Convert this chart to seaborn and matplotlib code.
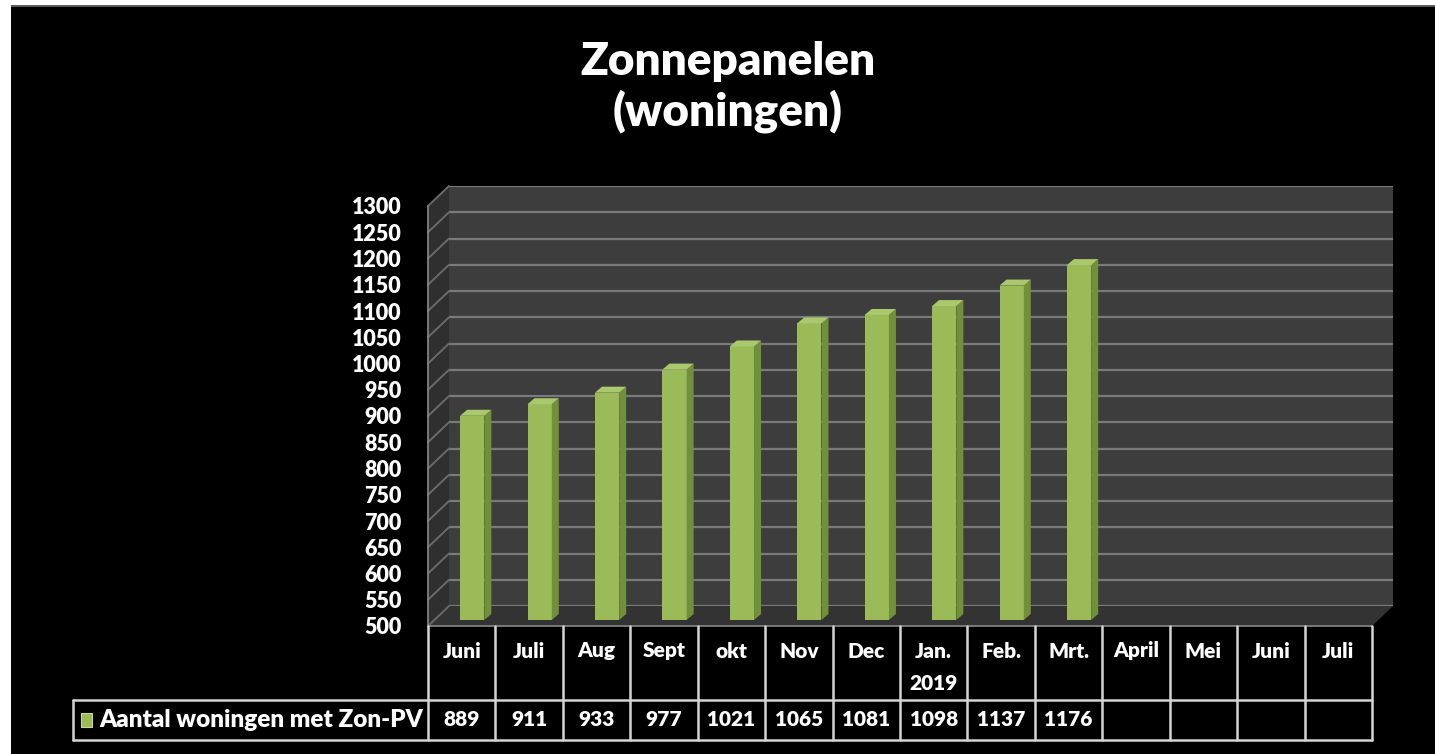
import numpy as np
import pandas as pd
import matplotlib
matplotlib.use("Agg")
import matplotlib.pyplot as plt
import seaborn as sns
from matplotlib.patches import Polygon, Rectangle
from matplotlib.lines import Line2D
from matplotlib.transforms import IdentityTransform

# ---------------- data ----------------
month_keys = ["2018-06", "2018-07", "2018-08", "2018-09", "2018-10", "2018-11",
              "2018-12", "2019-01", "2019-02", "2019-03", "2019-04", "2019-05",
              "2019-06", "2019-07"]
month_labels = ["Juni", "Juli", "Aug", "Sept", "okt", "Nov", "Dec", "Jan.\n2019",
                "Feb.", "Mrt.", "April", "Mei", "Juni", "Juli"]
values = [889, 911, 933, 977, 1021, 1065, 1081, 1098, 1137, 1176]
series_name = "Aantal woningen met Zon-PV"
title_text = "Zonnepanelen\n(woningen)"
y_ticks = list(range(500, 1301, 50))

df = pd.DataFrame({"maand": month_keys[:len(values)], "aantal": values})

# ---------------- style ----------------
sns.set_theme(style="dark")
plt.rcParams['font.family'] = ['Lato', 'DejaVu Sans']
plt.rcParams['font.weight'] = 'bold'
FW = "heavy"

W, H = 1435, 754
fig = plt.figure(figsize=(W / 100, H / 100), dpi=100, facecolor="black")


def box(x0, y0, x1, y1):
    return [x0 / W, 1 - y1 / H, (x1 - x0) / W, (y1 - y0) / H]


# white margin of the screenshot
fig.patches.append(Rectangle((0, 0), 11 / W, 1, transform=fig.transFigure,
                             facecolor="white", edgecolor="none", zorder=10))
fig.patches.append(Rectangle((0, 1 - 5 / H), 1, 5 / H, transform=fig.transFigure,
                             facecolor="white", edgecolor="none", zorder=10))
fig.patches.append(Rectangle((11 / W, 1 - 7 / H), 1, 2 / H, transform=fig.transFigure,
                             facecolor="#5a5a5a", edgecolor="none", zorder=10))

ymin, ymax = 500, 1300
n = len(month_keys)
xlim = (-0.5, n - 0.5)

DX = 21  # depth offset (px)
DY = 20

# back wall
ax_back = fig.add_axes(box(428 + DX, 206 - DY, 1372 + DX, 626 - DY))
ax_back.set_facecolor("#3d3d3d")
ax_back.set_xlim(*xlim)
ax_back.set_ylim(ymin, ymax)
for v in y_ticks:
    ax_back.axhline(v, color="#7a7a7a", lw=1.6, zorder=1)
ax_back.set_xticks([])
ax_back.set_yticks([])
for s in ax_back.spines.values():
    s.set_visible(False)
ax_back.set_zorder(-3)

# bar plane (mid depth)
ax_bar = fig.add_axes(box(428 + DX / 2, 210 - DY / 2, 1372 + DX / 2, 630 - DY / 2))
ax_bar.patch.set_alpha(0)
sns.barplot(data=df, x="maand", y="aantal", order=month_keys, color="#9bbb59",
            saturation=1, width=0.36, ax=ax_bar, edgecolor="none")
ax_bar.set_xlim(*xlim)
ax_bar.set_ylim(ymin, ymax)
ax_bar.set_xticks([])
ax_bar.set_yticks([])
ax_bar.set_xlabel("")
ax_bar.set_ylabel("")
for s in ax_bar.spines.values():
    s.set_visible(False)
ax_bar.set_zorder(0)

# front plane (y tick labels)
ax_front = fig.add_axes(box(428, 206, 1372, 626))
ax_front.patch.set_alpha(0)
ax_front.set_xlim(*xlim)
ax_front.set_ylim(ymin, ymax)
ax_front.set_yticks(y_ticks)
ax_front.set_yticklabels([str(v) for v in y_ticks])
ax_front.set_xticks([])
ax_front.tick_params(axis="y", length=0, pad=19, labelsize=15.5, labelcolor="white")
for lab in ax_front.get_yticklabels():
    lab.set_fontweight(FW)
for s in ax_front.spines.values():
    s.set_visible(False)
ax_front.set_zorder(2)

ident = IdentityTransform()
tf = ax_front.transData.transform
tb = ax_back.transData.transform

# side wall
pts = [tf((xlim[0], ymin)), tf((xlim[0], ymax)), tb((xlim[0], ymax)), tb((xlim[0], ymin))]
fig.patches.append(Polygon(pts, closed=True, transform=ident, facecolor="#2f2f2f",
                           edgecolor="none", zorder=-2))
for v in y_ticks:
    a, b = tf((xlim[0], v)), tb((xlim[0], v))
    fig.lines.append(Line2D([a[0], b[0]], [a[1], b[1]], transform=ident,
                            color="#6a6a6a", lw=1.4, zorder=-1.5))
a, b = tf((xlim[0], ymin)), tf((xlim[0], ymax))
fig.lines.append(Line2D([a[0], b[0]], [a[1], b[1]], transform=ident,
                        color="#8a8a8a", lw=1.2, zorder=-1.4))

# floor
pts = [tf((xlim[0], ymin)), tf((xlim[1], ymin)), tb((xlim[1], ymin)), tb((xlim[0], ymin))]
fig.patches.append(Polygon(pts, closed=True, transform=ident, facecolor="#333333",
                           edgecolor="none", zorder=-2))
a, b = tf((xlim[0], ymin)), tf((xlim[1], ymin))
fig.lines.append(Line2D([a[0], b[0]], [a[1], b[1]], transform=ident,
                        color="#8a8a8a", lw=1.2, zorder=-1.4))

# 3D faces of the bars
tm = ax_bar.transData.transform
d = 7
for p in ax_bar.patches:
    h = p.get_height()
    if not np.isfinite(h):
        continue
    x0, w = p.get_x(), p.get_width()
    bl = tm((x0, ymin))
    tr = tm((x0 + w, h))
    side = [(tr[0], bl[1]), (tr[0], tr[1]), (tr[0] + d, tr[1] + d - 1), (tr[0] + d, bl[1] + d - 1)]
    top = [(bl[0], tr[1]), (tr[0], tr[1]), (tr[0] + d, tr[1] + d - 1), (bl[0] + d, tr[1] + d - 1)]
    fig.patches.append(Polygon(side, closed=True, transform=ident, facecolor="#71903a",
                               edgecolor="none", zorder=0.5))
    fig.patches.append(Polygon(top, closed=True, transform=ident, facecolor="#a9c96c",
                               edgecolor="none", zorder=0.5))

# ---------------- title ----------------
fig.text(728 / W, 1 - 87 / H, title_text, ha="center", va="center", color="white",
         fontsize=33, fontweight=FW, linespacing=1.2)

# ---------------- data table ----------------
lc = "#d4d4d4"
lw = 1.8
y_top, y_mid, y_bot = 626, 700, 740
legend_left = 73


def fline(x0, y0, x1, y1):
    fig.lines.append(Line2D([x0 / W, x1 / W], [1 - y0 / H, 1 - y1 / H],
                            transform=fig.transFigure, color=lc, lw=lw, zorder=5))


col_edges = [tf((i - 0.5, ymin))[0] for i in range(n + 1)]
for xe in col_edges:
    fline(xe, y_top, xe, y_bot)
fline(legend_left, y_mid, col_edges[-1], y_mid)
fline(legend_left, y_bot, col_edges[-1], y_bot)
fline(legend_left, y_mid, legend_left, y_bot)

for i, lab in enumerate(month_labels):
    xc = (col_edges[i] + col_edges[i + 1]) / 2
    for j, line in enumerate(lab.split("\n")):
        fig.text(xc / W, 1 - (651 + 33 * j) / H, line, ha="center", va="center",
                 color="white", fontsize=15, fontweight=FW, zorder=6)
    if i < len(values):
        fig.text(xc / W, 1 - 720 / H, str(values[i]), ha="center", va="center",
                 color="white", fontsize=15, fontweight=FW, zorder=6)

fig.patches.append(Rectangle((81 / W, 1 - 727 / H), 11 / W, 14 / H, transform=fig.transFigure,
                             facecolor="#9bbb59", edgecolor="#c5d99a", lw=0.8, zorder=6))
fig.text(99 / W, 1 - 720 / H, series_name, ha="left", va="center", color="white",
         fontsize=17.5, fontweight=FW, zorder=6)

fig.savefig("out.png", dpi=100, facecolor="black")
